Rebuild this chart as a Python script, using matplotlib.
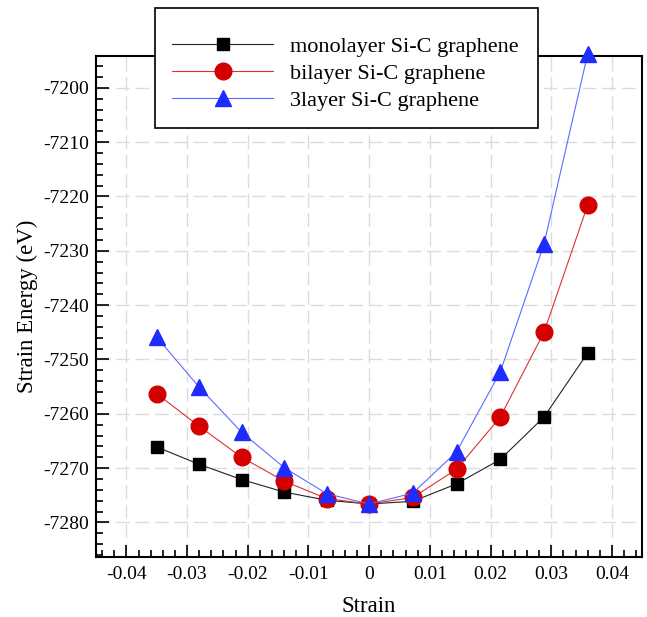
import numpy as np
import matplotlib.pyplot as plt
from matplotlib.patches import Rectangle
from matplotlib.ticker import MultipleLocator

# strain values (compressive side / tensile side)
strain = [-0.035, -0.028, -0.021, -0.014, -0.007, 0.0,
          0.0072, 0.0144, 0.0216, 0.0288, 0.036]

# total strain energy in eV
mono = [-7266.1, -7269.3, -7272.1, -7274.4, -7275.9, -7276.6,
        -7276.1, -7272.9, -7268.4, -7260.6, -7248.8]
bi = [-7256.3, -7262.3, -7268.0, -7272.4, -7275.6, -7276.6,
      -7275.4, -7270.2, -7260.6, -7245.0, -7221.6]
tri = [-7245.9, -7255.1, -7263.4, -7269.9, -7274.7, -7276.6,
       -7274.6, -7267.0, -7252.3, -7228.8, -7193.8]

labels = ["monolayer Si-C graphene", "bilayer Si-C graphene", "3layer Si-C graphene"]

plt.rcParams["font.family"] = ["Liberation Serif", "DejaVu Serif"]

W, H = 647, 617
fig = plt.figure(figsize=(W / 100, H / 100), dpi=100)
ax = fig.add_axes([0.1484, 0.0977, 0.9927 - 0.1484, 0.9097 - 0.0977])

ax.plot(strain, mono, color="#222222", lw=0.8, marker="s", ms=9,
        mfc="black", mec="black", label=labels[0], clip_on=False, zorder=3)
ax.plot(strain, bi, color="#e03030", lw=0.8, marker="o", ms=12,
        mfc="#d40000", mec="#d40000", label=labels[1], clip_on=False, zorder=4)
ax.plot(strain, tri, color="#5a6cff", lw=0.8, marker="^", ms=11,
        mfc="#1f2cff", mec="#1f2cff", label=labels[2], clip_on=False, zorder=5)

ax.set_xlim(-0.045, 0.045)
ax.set_ylim(-7286.3, -7194.1)
ax.xaxis.set_major_locator(MultipleLocator(0.01))
ax.xaxis.set_minor_locator(MultipleLocator(0.002))
ax.yaxis.set_major_locator(MultipleLocator(10))
ax.yaxis.set_minor_locator(MultipleLocator(2))
ax.xaxis.set_major_formatter(plt.FuncFormatter(lambda v, p: "0" if abs(v) < 1e-9 else f"{v:g}"))
ax.yaxis.set_major_formatter(plt.FuncFormatter(lambda v, p: f"{v:.0f}"))

ax.tick_params(which="both", direction="in", top=False, right=False,
               labelsize=14, width=1.2)
ax.tick_params(which="major", length=9)
ax.tick_params(which="minor", length=5)
ax.tick_params(axis="x", which="major", pad=7)
ax.tick_params(axis="y", which="major", pad=5)

for s in ax.spines.values():
    s.set_linewidth(1.5)

ax.grid(True, which="major", color="#dcdcdc", lw=1.0, linestyle=(0, (10, 4)))
ax.set_axisbelow(True)

ax.set_xlabel("Strain", fontsize=16.5, labelpad=9)
ax.set_ylabel("Strain Energy (eV)", fontsize=16.5, labelpad=4)

# legend box sits over the top spine
box = Rectangle((155 / W, 1 - 128 / H), (538 - 155) / W, 120 / H,
                transform=fig.transFigure, facecolor="white",
                edgecolor="black", lw=1.2, zorder=5)
fig.patches.append(box)

handles, _ = ax.get_legend_handles_labels()
leg = fig.legend(handles, labels, loc="upper left",
                 bbox_to_anchor=(172 / W, 1 - 36 / H), borderaxespad=0,
                 fontsize=16, handlelength=4.55, borderpad=0,
                 labelspacing=0.30, handletextpad=0.75, frameon=False)
leg.set_zorder(6)

fig.savefig("out.png", dpi=100)
